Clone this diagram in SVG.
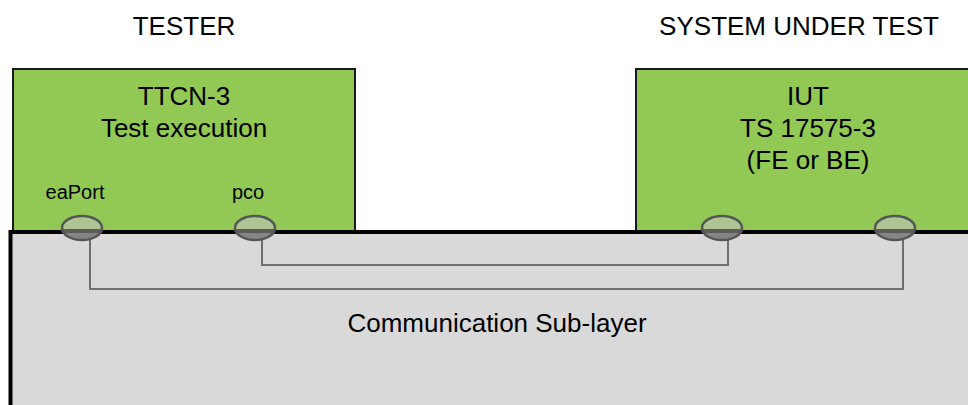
<svg xmlns="http://www.w3.org/2000/svg" width="968" height="405" viewBox="0 0 968 405">
<defs>
<style>
.t{font-family:"Liberation Sans",Arial,sans-serif;font-size:26px;fill:#000;text-anchor:middle}
.p{font-family:"Liberation Sans",Arial,sans-serif;font-size:20px;fill:#000;text-anchor:middle}
.box{fill:#92c955;stroke:#1a1a1a;stroke-width:2}
.port{fill:url(#pg);stroke:#555;stroke-width:2.5}
.conn{fill:none;stroke:#6f6f6f;stroke-width:2}
</style>
<linearGradient id="pg" x1="0" y1="0" x2="0" y2="1">
<stop offset="0" stop-color="#adc493"/>
<stop offset="0.55" stop-color="#adc493"/>
<stop offset="0.55" stop-color="#5c5c5c"/>
<stop offset="0.72" stop-color="#5c5c5c"/>
<stop offset="0.72" stop-color="#858585"/>
<stop offset="1" stop-color="#858585"/>
</linearGradient>
</defs>
<rect width="968" height="405" fill="#fff"/>
<text class="t" x="184" y="35">TESTER</text>
<text class="t" x="799" y="35">SYSTEM UNDER TEST</text>
<g id="tester">
<rect class="box" x="13" y="69" width="342" height="162"/>
<text class="t" x="184" y="105">TTCN-3</text>
<text class="t" x="184" y="137">Test execution</text>
<text class="p" x="75" y="199">eaPort</text>
<text class="p" x="248" y="199">pco</text>
</g>
<g id="iut">
<rect class="box" x="636" y="69" width="345" height="162"/>
<text class="t" x="808" y="105">IUT</text>
<text class="t" x="808" y="137">TS 17575-3</text>
<text class="t" x="808" y="169">(FE or BE)</text>
</g>
<g id="sublayer">
<rect x="10.5" y="232" width="970" height="190" fill="#d9d9d9" stroke="#000" stroke-width="4"/>
<text class="t" x="497" y="332">Communication Sub-layer</text>
</g>
<g id="connectors">
<polyline class="conn" points="90,240 90,289 903,289 903,240"/>
<polyline class="conn" points="262,240 262,265 728,265 728,240"/>
</g>
<g id="ports">
<ellipse class="port" cx="82" cy="228" rx="20" ry="12"/>
<ellipse class="port" cx="255" cy="228" rx="20" ry="12"/>
<ellipse class="port" cx="722" cy="228" rx="20" ry="12"/>
<ellipse class="port" cx="895" cy="228" rx="20" ry="12"/>
</g>
</svg>
